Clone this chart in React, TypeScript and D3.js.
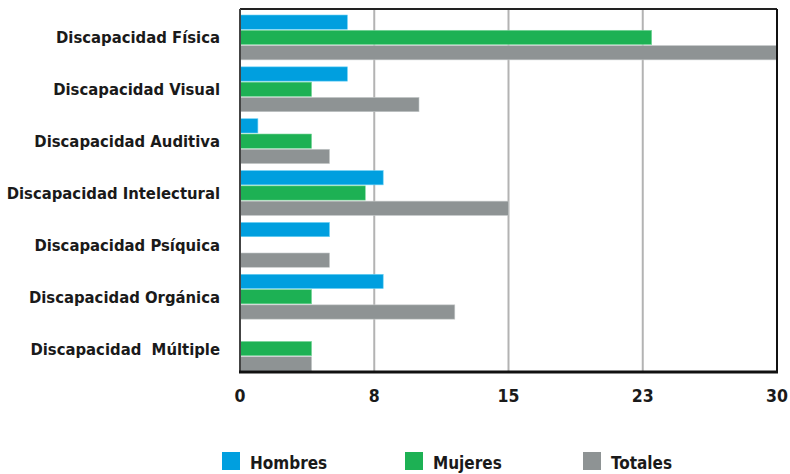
import React from "react";
import * as d3 from "d3";

const categories = [
  "Discapacidad Física",
  "Discapacidad Visual",
  "Discapacidad Auditiva",
  "Discapacidad Intelectural",
  "Discapacidad Psíquica",
  "Discapacidad Orgánica",
  "Discapacidad  Múltiple",
];
const seriesNames = ["Hombres", "Mujeres", "Totales"];
const hombres = [6, 6, 1, 8, 5, 8, 0];
const mujeres = [23, 4, 4, 7, 0, 4, 4];
const totales = [30, 10, 5, 15, 5, 12, 4];
const tickValues = [0, 7.5, 15, 22.5, 30];
const tickLabels = ["0", "8", "15", "23", "30"];
const colors = ["#009fdf", "#1db154", "#8e9394"];
const edges = ["#6fd2f5", "#7fd89e", "#c4c8c9"];

const W = 790;
const H = 474;
const left = 240;
const right = 777;
const top = 9;
const bottom = 372;
const FONT = "'DejaVu Sans Condensed', 'DejaVu Sans', sans-serif";

export default function App() {
  const x = d3.scaleLinear().domain([0, 30]).range([left, right]);
  const y = d3.scaleBand<string>().domain(categories).range([top, bottom]);
  const sub = d3.scaleBand<string>().domain(seriesNames).range([6, y.bandwidth()]);
  const data = [hombres, mujeres, totales];

  return (
    <svg width={W} height={H} style={{ position: "absolute", left: 0, top: 0, background: "#fff" }}>
      <rect x={0} y={0} width={W} height={H} fill="#fff" />
      {tickValues.slice(1, -1).map((t) => (
        <line key={t} x1={x(t)} x2={x(t)} y1={top} y2={bottom} stroke="#b3b3b3" strokeWidth={2} />
      ))}
      {categories.map((c, ci) =>
        data.map((vals, si) =>
          vals[ci] > 0 ? (
            <rect
              key={c + si}
              x={x(0)}
              y={(y(c) as number) + (sub(seriesNames[si]) as number)}
              width={x(vals[ci]) - x(0)}
              height={sub.bandwidth() - 1}
              fill={colors[si]}
              stroke={edges[si]}
              strokeWidth={0.6}
            />
          ) : null
        )
      )}
      <line x1={left} x2={right} y1={top} y2={top} stroke="#222" strokeWidth={2} />
      <line x1={left} x2={left} y1={top} y2={bottom} stroke="#444" strokeWidth={2} />
      <line x1={right} x2={right} y1={top} y2={bottom} stroke="#111" strokeWidth={2} />
      <line x1={left - 1} x2={right + 1} y1={bottom} y2={bottom} stroke="#111" strokeWidth={3} />
      {categories.map((c) => (
        <text
          key={c}
          x={220}
          y={(y(c) as number) + y.bandwidth() / 2 + 4}
          textAnchor="end"
          dominantBaseline="middle"
          fontFamily={FONT}
          fontWeight="bold"
          fontSize={16.5}
          fill="#1a1a1a"
          style={{ whiteSpace: "pre" }}
        >
          {c}
        </text>
      ))}
      {tickValues.map((t, i) => (
        <text
          key={t}
          x={x(t)}
          y={402}
          textAnchor="middle"
          fontFamily={FONT}
          fontWeight="bold"
          fontSize={17.5}
          fill="#1a1a1a"
        >
          {tickLabels[i]}
        </text>
      ))}
      {seriesNames.map((s, i) => {
        const lx = [222, 405, 583][i];
        return (
          <g key={s}>
            <rect x={lx} y={452} width={18} height={18} fill={colors[i]} />
            <text x={lx + 28} y={469} fontFamily={FONT} fontWeight="bold" fontSize={17} fill="#1a1a1a">
              {s}
            </text>
          </g>
        );
      })}
    </svg>
  );
}
